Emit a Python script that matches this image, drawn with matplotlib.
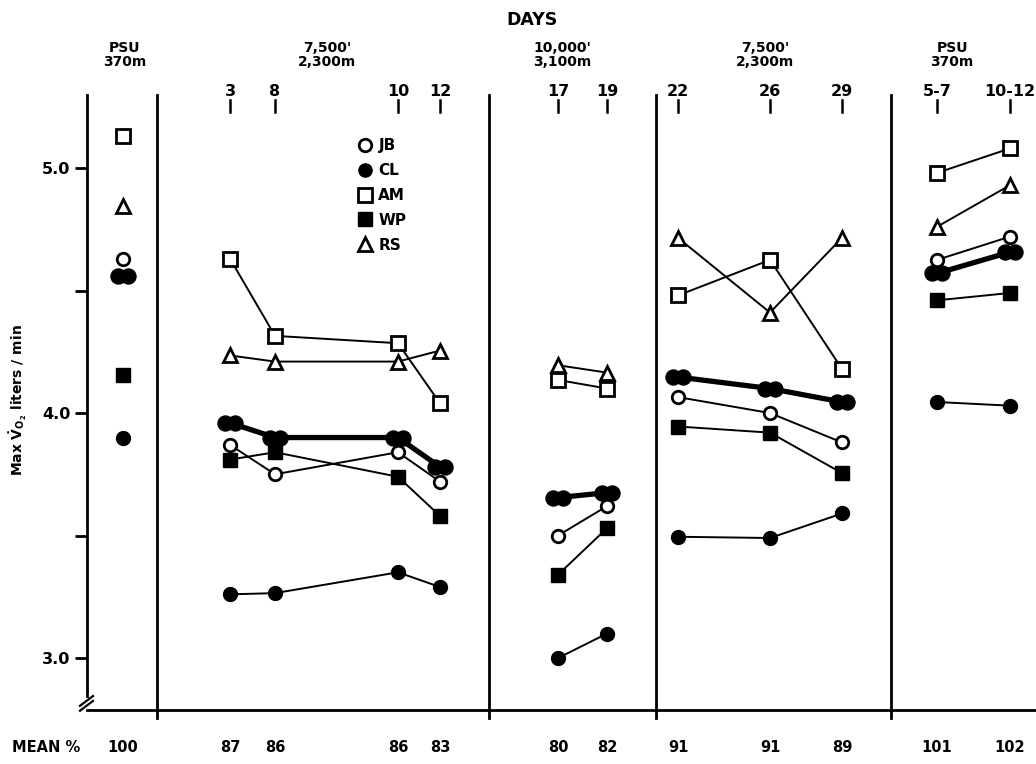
import matplotlib
matplotlib.use('Agg')
import matplotlib.pyplot as plt
import matplotlib.transforms as mtransforms
from matplotlib.path import Path
from matplotlib.lines import Line2D

# data
day_labels = ['', '3', '8', '10', '12', '17', '19', '22', '26', '29', '5-7', '10-12']
mean_pct = ['100', '87', '86', '86', '83', '80', '82', '91', '91', '89', '101', '102']
headers = ["PSU\n370m", "7,500'\n2,300m", "10,000'\n3,100m", "7,500'\n2,300m", "PSU\n370m"]

jb = [4.63, 3.87, 3.75, 3.84, 3.72, 3.50, 3.62, 4.065, 4.00, 3.88, 4.625, 4.72]
cl = [3.90, 3.26, 3.265, 3.35, 3.29, 3.00, 3.10, 3.495, 3.49, 3.59, 4.045, 4.03]
am = [5.13, 4.63, 4.315, 4.285, 4.04, 4.135, 4.10, 4.48, 4.625, 4.18, 4.98, 5.08]
wp = [4.155, 3.81, 3.84, 3.74, 3.58, 3.34, 3.53, 3.945, 3.92, 3.755, 4.46, 4.49]
rs = [4.845, 4.235, 4.21, 4.21, 4.255, 4.195, 4.165, 4.715, 4.41, 4.715, 4.76, 4.93]
mean = [4.56, 3.96, 3.90, 3.90, 3.78, 3.655, 3.675, 4.147, 4.10, 4.045, 4.57, 4.657]

# layout
xpos = [1.23, 2.30, 2.75, 3.98, 4.40, 5.58, 6.07, 6.78, 7.70, 8.42, 9.37, 10.10]
header_x = [1.25, 3.27, 5.62, 7.65, 9.52]
separators = [1.57, 4.89, 6.56, 8.91]
groups = [(0, 1), (1, 5), (5, 7), (7, 10), (10, 12)]
W, H = 1036, 764
ylo, yhi = 2.788, 5.298


def fy(p):
    return 1 - p / H


plt.rcParams['font.weight'] = 'bold'
plt.rcParams['mathtext.default'] = 'bf'

fig = plt.figure(figsize=(W / 100, H / 100), dpi=100)
ax = fig.add_axes([87 / W, fy(710), 1 - 87 / W, fy(95) - fy(710)])
ax.set_xlim(0.87, 10.36)
ax.set_ylim(ylo, yhi)

dbl = Path.make_compound_path(Path.circle((-0.4, 0), 0.6), Path.circle((0.4, 0), 0.6))

styles = [
    (am, dict(marker='s', mfc='white', mec='black', ms=9.5, mew=2, lw=1.4)),
    (rs, dict(marker='^', mfc='white', mec='black', ms=9.5, mew=2, lw=1.4)),
    (jb, dict(marker='o', mfc='white', mec='black', ms=9, mew=2, lw=1.4)),
    (wp, dict(marker='s', mfc='black', mec='black', ms=9.5, lw=1.4)),
    (cl, dict(marker='o', mfc='black', mec='black', ms=10, lw=1.4)),
    (mean, dict(marker=dbl, mfc='black', mec='black', ms=18, lw=3.8)),
]
for vals, st in styles:
    for a, b in groups:
        ax.plot(xpos[a:b], vals[a:b], color='black', clip_on=False, **st)

# section separators
for s in separators:
    ax.plot([s, s], [ylo - 0.033, yhi], color='black', lw=2, clip_on=False)

# day tick marks
for x, lab in zip(xpos, day_labels):
    if lab:
        ax.plot([x, x], [5.229, 5.278], color='black', lw=1.8, clip_on=False)

for sp in ['top', 'right']:
    ax.spines[sp].set_visible(False)
ax.spines['left'].set_linewidth(2)
ax.spines['bottom'].set_linewidth(2)
ax.spines['left'].set_bounds(2.845, yhi)

# axis break
ax.plot([0.80, 0.93], [2.805, 2.845], color='black', lw=1.6, clip_on=False)
ax.plot([0.80, 0.93], [2.785, 2.825], color='black', lw=1.6, clip_on=False)

ax.set_xticks([])
ax.set_yticks([3.0, 4.0, 5.0])
ax.set_yticklabels(['3.0', '4.0', '5.0'], fontsize=11.5, fontweight='bold')
ax.set_yticks([3.5, 4.5], minor=True)
ax.tick_params(axis='y', which='both', direction='out', length=9, width=2, pad=3)

trans = mtransforms.blended_transform_factory(ax.transData, fig.transFigure)
for x, lab in zip(xpos, day_labels):
    ax.text(x, fy(92), lab, transform=trans, ha='center', va='center', fontsize=11.5)
for x, lab in zip(header_x, headers):
    ax.text(x, fy(55), lab, transform=trans, ha='center', va='center', fontsize=10,
            linespacing=0.95)
for x, lab in zip(xpos, mean_pct):
    ax.text(x, fy(748), lab, transform=trans, ha='center', va='center', fontsize=10.5)
fig.text(12 / W, fy(748), 'MEAN %', ha='left', va='center', fontsize=10.5)
ax.text(5.32, fy(20), 'DAYS', transform=trans, ha='center', va='center', fontsize=12.5)
fig.text(18 / W, fy(400), r'Max $\dot{V}_{O_2}$ liters / min', rotation=90,
         ha='center', va='center', fontsize=10)

handles = [
    Line2D([], [], ls='none', marker='o', mfc='white', mec='black', ms=9, mew=2),
    Line2D([], [], ls='none', marker='o', mfc='black', mec='black', ms=9.5),
    Line2D([], [], ls='none', marker='s', mfc='white', mec='black', ms=9.5, mew=2),
    Line2D([], [], ls='none', marker='s', mfc='black', mec='black', ms=9.5),
    Line2D([], [], ls='none', marker='^', mfc='white', mec='black', ms=9.5, mew=2),
]
ax.legend(handles, ['JB', 'CL', 'AM', 'WP', 'RS'], loc='upper left',
          bbox_to_anchor=(357 / W, fy(138)), bbox_transform=fig.transFigure,
          frameon=False, fontsize=11, handlelength=1.0, handletextpad=0.4,
          labelspacing=0.65, borderpad=0, borderaxespad=0)

fig.savefig('out.png', dpi=100)
